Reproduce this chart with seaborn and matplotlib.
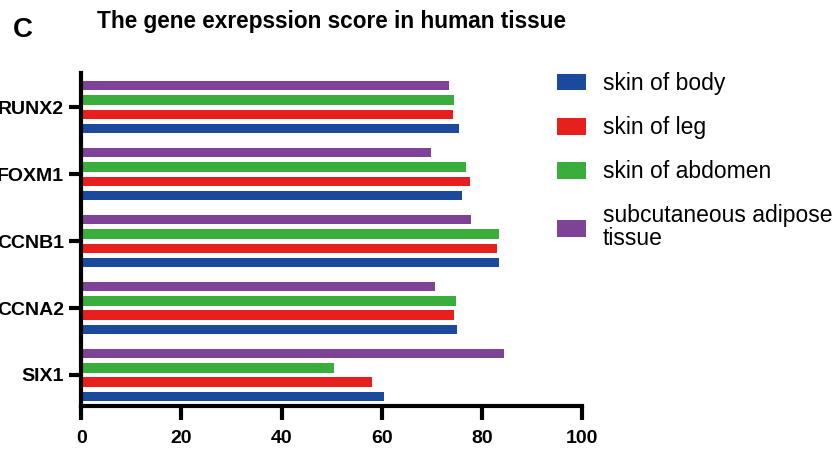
import matplotlib
matplotlib.use("Agg")
import matplotlib.pyplot as plt
from matplotlib.patches import Patch
import pandas as pd
import seaborn as sns

# Gene expression scores per tissue
genes = ["SIX1", "CCNA2", "CCNB1", "FOXM1", "RUNX2"]
tissues = ["skin of body", "skin of leg", "skin of abdomen",
           "subcutaneous adipose\ntissue"]
skin_of_body = [60.4, 74.9, 83.4, 76.0, 75.4]
skin_of_leg = [58.0, 74.3, 83.0, 77.6, 74.2]
skin_of_abdomen = [50.5, 74.8, 83.4, 76.7, 74.3]
subcutaneous_adipose = [84.4, 70.7, 77.8, 69.9, 73.4]
x_ticks = [0, 20, 40, 60, 80, 100]

colors = ["#1B4A9C", "#E8201D", "#3AAE3C", "#7E4296"]

series = [skin_of_body, skin_of_leg, skin_of_abdomen, subcutaneous_adipose]
df = pd.DataFrame(
    [(g, t, v) for t, vals in zip(tissues, series) for g, v in zip(genes, vals)],
    columns=["gene", "tissue", "score"],
)

sns.set_theme(style="white")
plt.rcParams["font.family"] = ["Liberation Sans", "DejaVu Sans"]
plt.rcParams["text.color"] = "black"
plt.rcParams["axes.labelcolor"] = "black"
plt.rcParams["xtick.color"] = "black"
plt.rcParams["ytick.color"] = "black"

fig = plt.figure(figsize=(8.33, 4.5), dpi=100)
ax = fig.add_axes([0.0976, 0.0978, 0.699 - 0.0976, 0.8384 - 0.0978])

sns.barplot(
    data=df, x="score", y="gene", hue="tissue",
    order=genes, hue_order=tissues, palette=colors, saturation=1,
    orient="h", width=0.85, gap=0.345, errorbar=None,
    legend=False, ax=ax, linewidth=0,
)

# First gene and first tissue at the bottom
ax.set_ylim(-0.463, 4.514)
ax.set_xlim(0, 100)
ax.set_xticks(x_ticks)
ax.set_xlabel("")
ax.set_ylabel("")

for side in ["top", "right"]:
    ax.spines[side].set_visible(False)
for side in ["left", "bottom"]:
    ax.spines[side].set_linewidth(3)
    ax.spines[side].set_color("black")

ax.tick_params(axis="x", which="major", direction="out", length=10, width=3,
               pad=7.5, labelsize=14, colors="black", bottom=True)
ax.tick_params(axis="y", which="major", direction="out", length=9, width=3,
               pad=3.5, labelsize=14, colors="black", left=True)
for lab in ax.get_xticklabels() + ax.get_yticklabels():
    lab.set_fontweight("bold")

handles = [Patch(facecolor=c, edgecolor="none", label=t)
           for c, t in zip(colors, tissues)]
leg = ax.legend(
    handles=handles, loc="upper left",
    bbox_to_anchor=(557 / 833, 1 - 72 / 450), bbox_transform=fig.transFigure,
    frameon=False, fontsize=16.5, handlelength=1.27, handleheight=0.76,
    handletextpad=0.74, labelspacing=0.92, borderpad=0, borderaxespad=0,
)
for txt in leg.get_texts():
    txt.set_linespacing(1.0)
    txt.set_color("black")

fig.text(97 / 833, 1 - 28.3 / 450, "The gene exrepssion score in human tissue",
         ha="left", va="baseline", fontsize=16.3, fontweight="bold")
fig.text(12.7 / 833, 1 - 36.7 / 450, "C", ha="left", va="baseline",
         fontsize=20, fontweight="bold")

fig.savefig("out.png", dpi=100)
